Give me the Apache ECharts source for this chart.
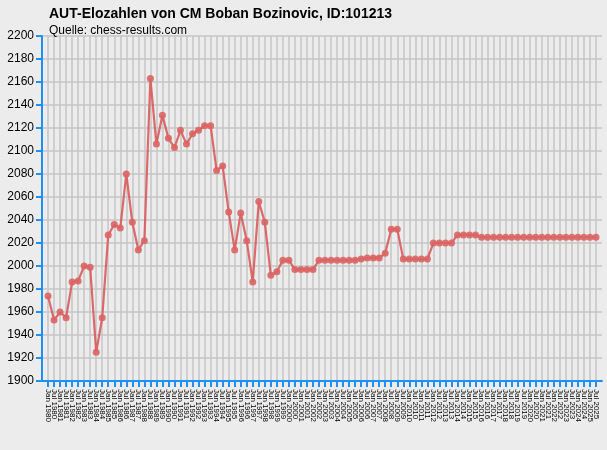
<!DOCTYPE html>
<html>
<head>
<meta charset="utf-8">
<script src="https://cdn.jsdelivr.net/npm/echarts@6/dist/echarts.min.js"></script>
<style>
  html, body { margin: 0; padding: 0; background: #ececec; }
  #chart { width: 607px; height: 450px; }
</style>
</head>
<body>
<div id="chart"></div>
<script>
// Halbjahres-Listen (Jan / Jul)
var months = [
  'Jan 1980','Jul 1980','Jan 1981','Jul 1981','Jan 1982','Jul 1982','Jan 1983','Jul 1983',
  'Jan 1984','Jul 1984','Jan 1985','Jul 1985','Jan 1986','Jul 1986','Jan 1987','Jul 1987',
  'Jan 1988','Jul 1988','Jan 1989','Jul 1989','Jan 1990','Jul 1990','Jan 1991','Jul 1991',
  'Jan 1992','Jul 1992','Jan 1993','Jul 1993','Jan 1994','Jul 1994','Jan 1995','Jul 1995',
  'Jan 1996','Jul 1996','Jan 1997','Jul 1997','Jan 1998','Jul 1998','Jan 1999','Jul 1999',
  'Jan 2000','Jul 2000','Jan 2001','Jul 2001','Jan 2002','Jul 2002','Jan 2003','Jul 2003',
  'Jan 2004','Jul 2004','Jan 2005','Jul 2005','Jan 2006','Jul 2006','Jan 2007','Jul 2007',
  'Jan 2008','Jul 2008','Jan 2009','Jul 2009','Jan 2010','Jul 2010','Jan 2011','Jul 2011',
  'Jan 2012','Jul 2012','Jan 2013','Jul 2013','Jan 2014','Jul 2014','Jan 2015','Jul 2015',
  'Jan 2016','Jul 2016','Jan 2017','Jul 2017','Jan 2018','Jul 2018','Jan 2019','Jul 2019',
  'Jan 2020','Jul 2020','Jan 2021','Jul 2021','Jan 2022','Jul 2022','Jan 2023','Jul 2023',
  'Jan 2024','Jul 2024','Jan 2025','Jul 2025'
];

var elo = [
  1974, 1953, 1960, 1955, 1986, 1987, 2000, 1999, 1925, 1955,
  2027, 2036, 2033, 2080, 2038, 2014, 2022, 2163, 2106, 2131,
  2111, 2103, 2118, 2106, 2115, 2118, 2122, 2122, 2083, 2087,
  2047, 2014, 2046, 2022, 1986, 2056, 2038, 1992, 1995, 2005,
  2005, 1997, 1997, 1997, 1997, 2005, 2005, 2005, 2005, 2005,
  2005, 2005, 2006, 2007, 2007, 2007, 2011, 2032, 2032, 2006,
  2006, 2006, 2006, 2006, 2020, 2020, 2020, 2020, 2027, 2027,
  2027, 2027, 2025, 2025, 2025, 2025, 2025, 2025, 2025, 2025,
  2025, 2025, 2025, 2025, 2025, 2025, 2025, 2025, 2025, 2025,
  2025, 2025
];

var yMin = 1900, yMax = 2200, yStep = 20;

// je eine leere Kategorie am Rand, damit die Punkte etwas von den Achsen abstehen
var cats = [''].concat(months, ['']);
var vals = [null].concat(elo, [null]);
var last = cats.length - 1;
function inner(i) { return i > 0 && i < last; }

var blue = '#1e8fff';
var font = 'Liberation Sans, Arial, sans-serif';

var chart = echarts.init(document.getElementById('chart'));
chart.setOption({
  backgroundColor: '#ececec',
  animation: false,
  title: [
    {
      text: 'AUT-Elozahlen von CM Boban Bozinovic, ID:101213',
      left: 44, top: 2,
      textStyle: { fontFamily: font, fontSize: 14, fontWeight: 'bold', color: '#000' }
    },
    {
      text: 'Quelle: chess-results.com',
      left: 44, top: 20,
      textStyle: { fontFamily: font, fontSize: 12, fontWeight: 'normal', color: '#000' }
    }
  ],
  grid: { left: 42, right: 5, top: 36, bottom: 69, containLabel: false },
  xAxis: {
    type: 'category',
    data: cats,
    boundaryGap: false,
    axisLine: { lineStyle: { color: blue, width: 2 } },
    axisTick: { interval: inner, length: 6, lineStyle: { color: blue, width: 2 } },
    axisLabel: {
      interval: 0, rotate: -90, margin: 8,
      fontFamily: font, fontSize: 8, color: '#000'
    },
    splitLine: { show: true, interval: inner, lineStyle: { color: '#c6c6c6', width: 1.5 } }
  },
  yAxis: {
    type: 'value',
    min: yMin, max: yMax, interval: yStep,
    axisLine: { show: true, lineStyle: { color: blue, width: 2 } },
    axisTick: { show: true, length: 6, lineStyle: { color: blue, width: 2 } },
    axisLabel: {
      margin: 8, fontFamily: font, fontSize: 12, color: '#000',
      formatter: function (v) { return String(v); }
    },
    splitLine: { show: true, lineStyle: { color: '#c6c6c6', width: 1.5 } }
  },
  series: [{
    type: 'line',
    data: vals,
    symbol: 'circle',
    symbolSize: 7,
    showAllSymbol: true,
    lineStyle: { color: 'rgba(218,88,88,0.88)', width: 2.2 },
    itemStyle: { color: 'rgba(218,100,100,0.9)' }
  }]
});
</script>
</body>
</html>
